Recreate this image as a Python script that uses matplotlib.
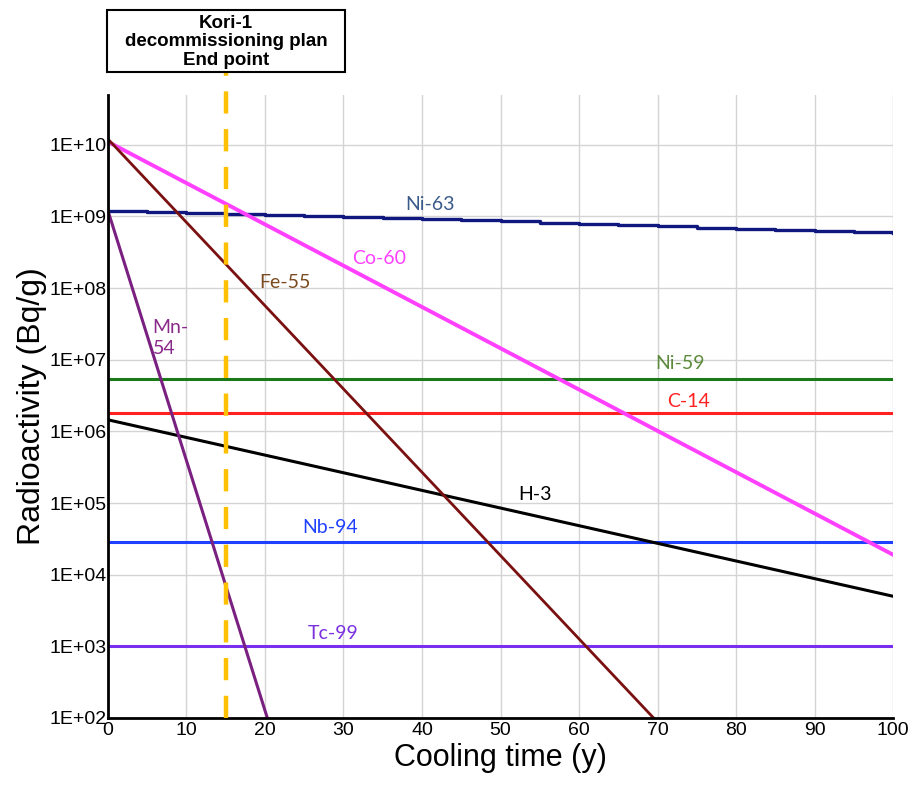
import numpy as np
import matplotlib
matplotlib.use('Agg')
import matplotlib.pyplot as plt
from matplotlib.patches import Rectangle
from matplotlib.ticker import FixedLocator, NullLocator

# Data
ni63_t = [0, 5, 10, 15, 20, 25, 30, 35, 40, 45, 50, 55, 60, 65, 70, 75, 80, 85, 90, 95, 100]
ni63_a = [1.20e9, 1.16e9, 1.12e9, 1.08e9, 1.04e9, 1.01e9, 9.7e8, 9.4e8, 9.1e8, 8.8e8, 8.5e8,
          8.2e8, 7.9e8, 7.6e8, 7.3e8, 7.0e8, 6.7e8, 6.5e8, 6.2e8, 6.0e8, 5.8e8]
co60_t = [0, 100]
co60_a = [1.1e10, 1.9e4]
fe55_t = [0, 69.5]
fe55_a = [1.2e10, 1e2]
mn54_t = [0, 20.3]
mn54_a = [1.2e9, 1e2]
h3_t = [0, 100]
h3_a = [1.45e6, 5.0e3]
ni59_a = 5.4e6
c14_a = 1.8e6
nb94_a = 2.9e4
tc99_a = 1.0e3
flat_t = [0, 100]

end_point = 15

ytick_vals = [1e2, 1e3, 1e4, 1e5, 1e6, 1e7, 1e8, 1e9, 1e10]
ytick_labels = ['1E+02', '1E+03', '1E+04', '1E+05', '1E+06', '1E+07', '1E+08', '1E+09', '1E+10']
xtick_vals = [0, 10, 20, 30, 40, 50, 60, 70, 80, 90, 100]

plt.rcParams['font.family'] = ['Liberation Sans', 'DejaVu Sans']

fig = plt.figure(figsize=(9.15, 7.89), dpi=100)
ax = fig.add_axes([0.118, 0.090, 0.858, 0.790])
ax.set_yscale('log')
ax.set_xlim(0, 100)
ax.set_ylim(1e2, 5e10)

ax.yaxis.set_major_locator(FixedLocator(ytick_vals))
ax.yaxis.set_minor_locator(NullLocator())
ax.set_yticklabels(ytick_labels, fontsize=14)
ax.set_xticks(xtick_vals)
ax.set_xticklabels([str(v) for v in xtick_vals], fontsize=14)
ax.tick_params(axis='y', length=0, pad=1)
ax.tick_params(axis='x', length=0, pad=3)

ax.grid(True, color='#d4d4d4', linewidth=1.0)
ax.set_axisbelow(True)
for s in ['top', 'right']:
    ax.spines[s].set_visible(False)
for s in ['left', 'bottom']:
    ax.spines[s].set_linewidth(2)
    ax.spines[s].set_color('black')

ax.plot(flat_t, [tc99_a, tc99_a], color='#7a2ff0', lw=2.2)
ax.plot(flat_t, [nb94_a, nb94_a], color='#2040ff', lw=2.2)
ax.plot(flat_t, [c14_a, c14_a], color='#ff2020', lw=2.2)
ax.plot(flat_t, [ni59_a, ni59_a], color='#1a7a1a', lw=2.2)
ax.plot(h3_t, h3_a, color='black', lw=2.2)
ax.plot(ni63_t, ni63_a, color='#101880', lw=2.4, drawstyle='steps-post')
ax.plot(co60_t, co60_a, color='#ff40ff', lw=2.8)
ax.plot(fe55_t, fe55_a, color='#7a1010', lw=2.0)
ax.plot(mn54_t, mn54_a, color='#7a2080', lw=2.2)

# end point marker line
ax.plot([end_point, end_point], [1e2, 1.05e11], color='#ffc000', lw=3.2,
        dashes=(5, 3.5), clip_on=False, zorder=5)

lbl = dict(family=['Lato', 'DejaVu Sans'], fontsize=14, va='center')
ax.text(41, 1.45e9, 'Ni-63', color='#3a5a8a', ha='center', **lbl)
ax.text(34.6, 2.6e8, 'Co-60', color='#ff40ff', ha='center', **lbl)
ax.text(22.5, 1.2e8, 'Fe-55', color='#7a4a20', ha='center', **lbl)
ax.text(5.7, 2.0e7, 'Mn-\n54', color='#8a2a8a', ha='left', linespacing=1.3, **lbl)
ax.text(72.9, 9.0e6, 'Ni-59', color='#5a8a3a', ha='center', **lbl)
ax.text(74, 2.6e6, 'C-14', color='#ff2020', ha='center', **lbl)
ax.text(54.4, 1.3e5, 'H-3', color='black', ha='center', **lbl)
ax.text(28.3, 4.6e4, 'Nb-94', color='#2040ff', ha='center', **lbl)
ax.text(28.7, 1.5e3, 'Tc-99', color='#7a30e0', ha='center', **lbl)

ax.set_xlabel('Cooling time (y)', fontsize=22, labelpad=3)
ax.set_ylabel('Radioactivity (Bq/g)', fontsize=23, labelpad=2)

# annotation box above the axes (figure pixel layout of the reference)
W, H = 915.0, 789.0
fig.patches.append(Rectangle((107 / W, 1 - 72 / H), 238 / W, 62 / H, transform=fig.transFigure,
                             facecolor='white', edgecolor='black', linewidth=1.5, zorder=6))
fig.text(226 / W, 1 - 42 / H, 'Kori-1\ndecommissioning plan\nEnd point', ha='center', va='center',
         fontsize=13.5, fontweight='bold', linespacing=1.12, zorder=7)

fig.savefig('out.png', dpi=100)
